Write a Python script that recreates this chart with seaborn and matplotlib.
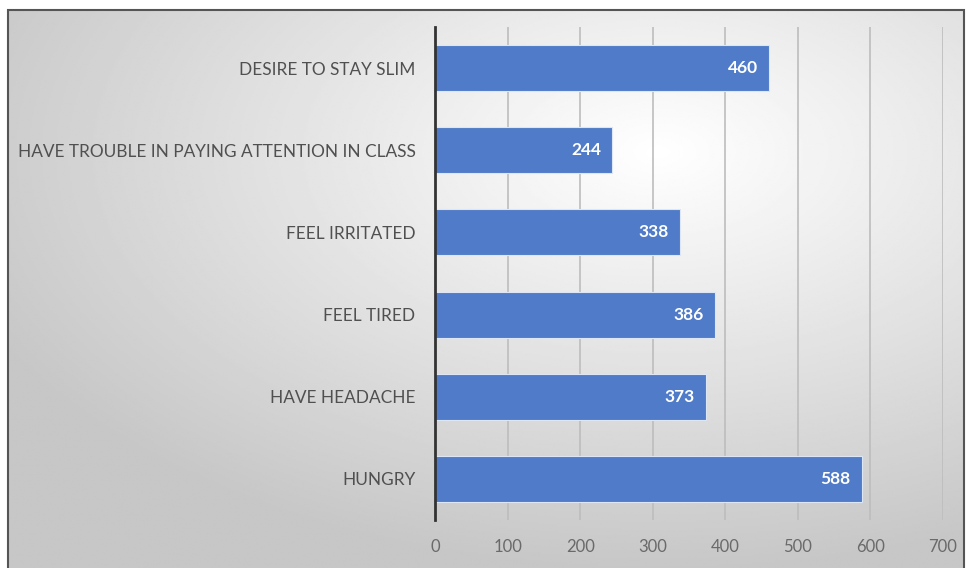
import numpy as np
import pandas as pd
import matplotlib
matplotlib.use("Agg")
import matplotlib.pyplot as plt
from matplotlib.patches import Rectangle
import seaborn as sns

categories = [
    "DESIRE TO STAY SLIM",
    "HAVE TROUBLE IN PAYING ATTENTION IN CLASS",
    "FEEL IRRITATED",
    "FEEL TIRED",
    "HAVE HEADACHE",
    "HUNGRY",
]
counts = [460, 244, 338, 386, 373, 588]
x_ticks = [0, 100, 200, 300, 400, 500, 600, 700]

df = pd.DataFrame({"reason": categories, "count": counts})

sns.set_theme(style="white")
plt.rcParams["font.family"] = ["Lato", "DejaVu Sans"]

W, H = 966, 568
fig = plt.figure(figsize=(W / 100, H / 100), dpi=100)
fig.patch.set_facecolor("white")

# soft radial background inside the framed area
bx0, by0, bx1, by1 = 8, 10, 964, 580
bg = fig.add_axes([bx0 / W, 1 - by1 / H, (bx1 - bx0) / W, (by1 - by0) / H])
yy, xx = np.mgrid[0:1:300j, 0:1:500j]
r = np.sqrt(((xx - 0.68) / 0.95) ** 2 + ((yy - 0.25) / 0.9) ** 2)
shade = np.clip(1.0 - 0.27 * r, 0.78, 1.0)
bg.imshow(shade, cmap="gray", vmin=0, vmax=1, aspect="auto",
          extent=[0, 1, 1, 0], interpolation="bilinear")
bg.set_axis_off()
fig.add_artist(Rectangle((bx0 / W, 1 - by1 / H), (bx1 - bx0) / W, (by1 - by0) / H,
                         transform=fig.transFigure, fill=False,
                         edgecolor="#555555", linewidth=1.5))

# main plot area
left, right, top, bottom = 435, 943, 27, 520
ax = fig.add_axes([left / W, 1 - bottom / H, (right - left) / W, (bottom - top) / H])
ax.patch.set_alpha(0)

sns.barplot(data=df, y="reason", x="count", orient="h", ax=ax,
            color="#4F7BC8", saturation=1, width=0.56, zorder=3,
            edgecolor="#dce6f5", linewidth=0.8)

ax.set_xlim(0, 700)
ax.set_xticks(x_ticks)
ax.set_xticklabels([str(t) for t in x_ticks])
ax.set_xlabel("")
ax.set_ylabel("")
ax.set_ylim(5.5, -0.5)

for t in x_ticks[1:]:
    ax.axvline(t, color="#bdbdbd", linewidth=1.2, zorder=1)

for s in ["top", "right", "bottom"]:
    ax.spines[s].set_visible(False)
ax.spines["left"].set_color("#333333")
ax.spines["left"].set_linewidth(2)
ax.spines["left"].set_zorder(4)

ax.tick_params(axis="x", length=0, pad=14, labelsize=12, labelcolor="#6a6a6a")
ax.tick_params(axis="y", length=0, pad=14, labelsize=12.4, labelcolor="#505050")

for i, v in enumerate(counts):
    ax.annotate(str(v), xy=(v, i), xytext=(-8, 0), textcoords="offset points",
                ha="right", va="center", color="white", fontsize=12.5,
                fontweight="bold", zorder=5)

fig.savefig("out.png", dpi=100)
